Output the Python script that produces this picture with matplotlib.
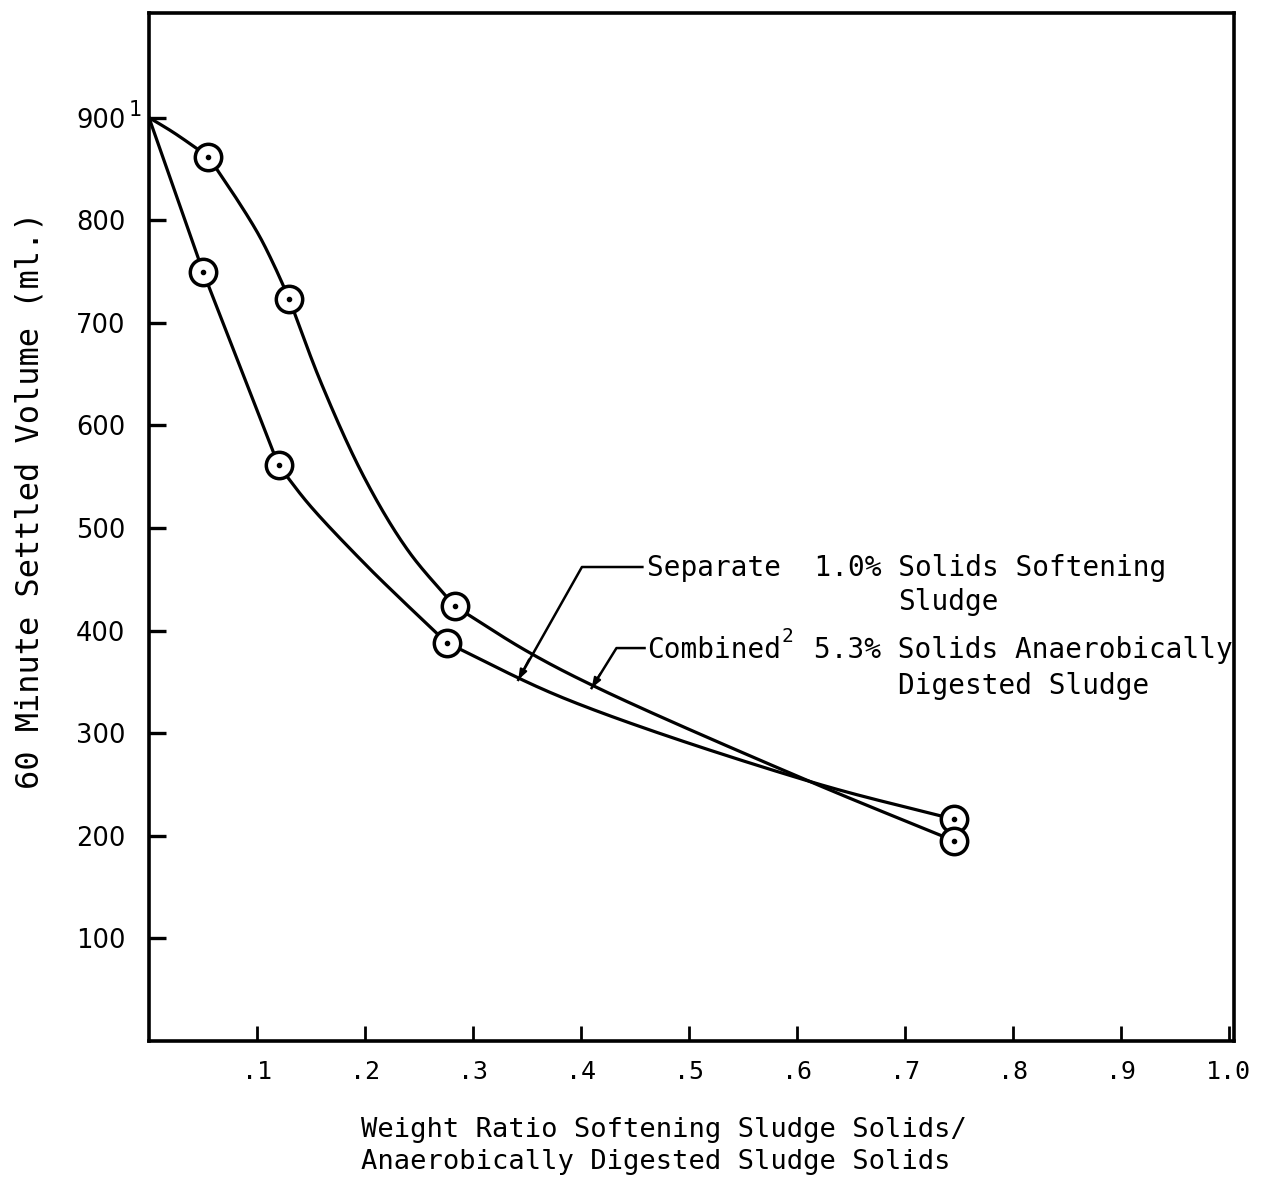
import numpy as np
import matplotlib
matplotlib.use("Agg")
from matplotlib import pyplot as plt

# measured points (circles)
sep_x = [0.050, 0.120, 0.276, 0.746]
sep_y = [750, 561, 388, 216]
comb_x = [0.055, 0.130, 0.283, 0.746]
comb_y = [862, 723, 424, 195]

# hand-drawn curves
sep_curve_x = [0.0, 0.050, 0.120, 0.149, 0.200, 0.232, 0.276, 0.387, 0.612, 0.746]
sep_curve_y = [900, 750, 561, 522, 465, 432, 388, 333, 253, 216]
comb_curve_x = [0.0, 0.022, 0.055, 0.078, 0.101, 0.115, 0.130, 0.160, 0.200, 0.240, 0.283,
                0.350, 0.418, 0.612, 0.746]
comb_curve_y = [900, 886, 862, 826, 787, 758, 723, 640, 548, 478, 424,
                380, 343, 253, 195]

xticks = [.1, .2, .3, .4, .5, .6, .7, .8, .9, 1.0]
xlabels = [".1", ".2", ".3", ".4", ".5", ".6", ".7", ".8", ".9", "1.0"]
yticks = [100, 200, 300, 400, 500, 600, 700, 800, 900]

W, H = 1263, 1180


def catmull(xs, ys, n=40):
    # centripetal catmull-rom, done in roughly-pixel space so it doesn't wiggle
    sx, sy = 1080.0, 1.03
    P = np.column_stack([np.array(xs) * sx, np.array(ys) * sy])
    if len(P) == 2:
        return P[:, 0] / sx, P[:, 1] / sy
    P = np.vstack([2 * P[0] - P[1], P, 2 * P[-1] - P[-2]])
    out = []
    for i in range(1, len(P) - 2):
        p0, p1, p2, p3 = P[i - 1], P[i], P[i + 1], P[i + 2]
        t0 = 0.0
        t1 = t0 + np.linalg.norm(p1 - p0) ** 0.5
        t2 = t1 + np.linalg.norm(p2 - p1) ** 0.5
        t3 = t2 + np.linalg.norm(p3 - p2) ** 0.5
        t = np.linspace(t1, t2, n)[:, None]
        a1 = (t1 - t) / (t1 - t0) * p0 + (t - t0) / (t1 - t0) * p1
        a2 = (t2 - t) / (t2 - t1) * p1 + (t - t1) / (t2 - t1) * p2
        a3 = (t3 - t) / (t3 - t2) * p2 + (t - t2) / (t3 - t2) * p3
        b1 = (t2 - t) / (t2 - t0) * a1 + (t - t0) / (t2 - t0) * a2
        b2 = (t3 - t) / (t3 - t1) * a2 + (t - t1) / (t3 - t1) * a3
        c = (t2 - t) / (t2 - t1) * b1 + (t - t1) / (t2 - t1) * b2
        out.append(c)
    C = np.vstack(out)
    return C[:, 0] / sx, C[:, 1] / sy


def smooth(xs, ys, breaks):
    # the pen changes direction under each circle, so smooth piece by piece
    xs, ys = list(xs), list(ys)
    idx = [0] + [xs.index(b) for b in breaks if b in xs and xs.index(b) not in (0, len(xs) - 1)] + [len(xs) - 1]
    X, Y = [], []
    for a, b in zip(idx[:-1], idx[1:]):
        px_, py_ = catmull(xs[a:b + 1], ys[a:b + 1])
        X.append(px_)
        Y.append(py_)
    return np.concatenate(X), np.concatenate(Y)


def fx(px):  # image pixel -> figure fraction
    return px / W


def fy(py):
    return 1 - py / H


mono = "DejaVu Sans Mono"

fig = plt.figure(figsize=(W / 100, H / 100), dpi=100)
ax = fig.add_axes([fx(149), fy(1041), fx(1234) - fx(149), fy(13) - fy(1041)])

for cx, cy, bx in [(sep_curve_x, sep_curve_y, sep_x), (comb_curve_x, comb_curve_y, comb_x)]:
    sxs, sys_ = smooth(cx, cy, bx)
    ax.plot(sxs, sys_, color="black", lw=2.3, zorder=2, solid_capstyle="round")

for px_, py_ in [(sep_x, sep_y), (comb_x, comb_y)]:
    ax.plot(px_, py_, "o", ms=19, mfc="white", mec="black", mew=2.5, zorder=3, ls="none")
    ax.plot(px_, py_, "o", ms=3, color="black", zorder=4, ls="none")

ax.set_xlim(0, 1.005)
ax.set_ylim(0, 1002)
ax.set_xticks(xticks)
ax.set_xticklabels(xlabels, fontfamily=mono, fontsize=18)
ax.set_yticks(yticks)
ax.set_yticklabels([str(v) for v in yticks], fontfamily="DejaVu Sans", fontsize=18.5)
ax.tick_params(axis="x", direction="in", length=11, width=2.0, pad=14)
ax.tick_params(axis="y", direction="in", length=12, width=2.4, pad=17)
for s in ax.spines.values():
    s.set_linewidth(2.6)

# superscript on 900
fig.text(fx(129), fy(110), "1", fontsize=15, fontfamily="DejaVu Sans", ha="left", va="center")

# leader lines
sep_leader_x = [0.457, 0.401, 0.342]
sep_leader_y = [462, 462, 352]
comb_leader_x = [0.459, 0.433, 0.410]
comb_leader_y = [383, 383, 344]
ax.plot(sep_leader_x, sep_leader_y, color="black", lw=1.8, zorder=2)
ax.plot(comb_leader_x, comb_leader_y, color="black", lw=1.8, zorder=2)
ax.annotate("", xy=(sep_leader_x[2], sep_leader_y[2]),
            xytext=(sep_leader_x[2] + 0.010, sep_leader_y[2] + 20),
            arrowprops=dict(arrowstyle="-|>,head_length=0.6,head_width=0.22", color="black", lw=1.5,
                            shrinkA=0, shrinkB=0))
ax.annotate("", xy=(comb_leader_x[2], comb_leader_y[2]),
            xytext=(comb_leader_x[2] + 0.008, comb_leader_y[2] + 14),
            arrowprops=dict(arrowstyle="-|>,head_length=0.6,head_width=0.22", color="black", lw=1.5,
                            shrinkA=0, shrinkB=0))

adv = 0.602 * 20 * 100 / 72  # mono char advance in px at 20pt
x0 = 647
fig.text(fx(x0), fy(568), "Separate  1.0% Solids Softening", fontfamily=mono, fontsize=20, va="center")
fig.text(fx(x0 + 15 * adv), fy(602), "Sludge", fontfamily=mono, fontsize=20, va="center")
fig.text(fx(x0), fy(650), "Combined", fontfamily=mono, fontsize=20, va="center")
fig.text(fx(x0 + 8 * adv + 1), fy(636), "2", fontfamily=mono, fontsize=14, va="center")
fig.text(fx(x0 + 10 * adv), fy(650), "5.3% Solids Anaerobically", fontfamily=mono, fontsize=20, va="center")
fig.text(fx(x0 + 15 * adv), fy(686), "Digested Sludge", fontfamily=mono, fontsize=20, va="center")

# axis titles
fig.text(fx(361), fy(1130), "Weight Ratio Softening Sludge Solids/", fontfamily=mono, fontsize=19.5, va="center")
fig.text(fx(361), fy(1162), "Anaerobically Digested Sludge Solids", fontfamily=mono, fontsize=19.5, va="center")
fig.text(fx(30), fy(500), "60 Minute Settled Volume (ml.)", fontfamily=mono, fontsize=23,
         rotation=90, ha="center", va="center")

fig.savefig("out.png", dpi=100, facecolor="white")
